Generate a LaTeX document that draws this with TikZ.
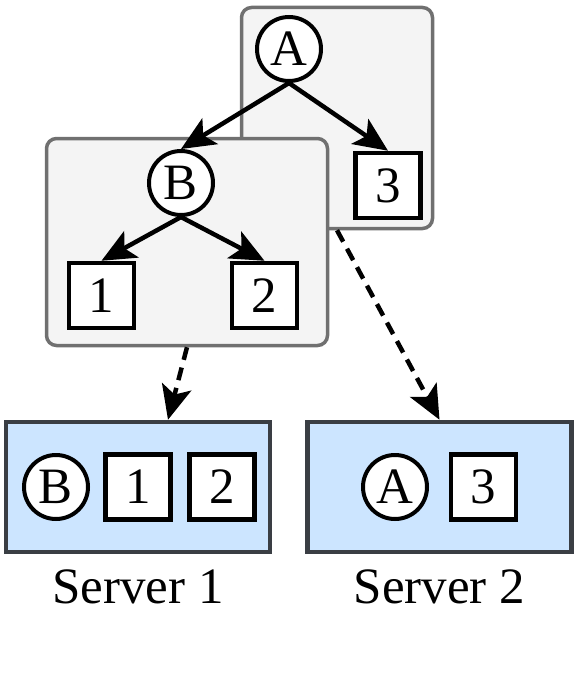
\documentclass[tikz,border=0pt]{standalone}
\usepackage{fontspec}
\setmainfont{Liberation Serif}
\usetikzlibrary{arrows.meta}

\definecolor{partfill}{HTML}{F4F4F4}
\definecolor{partline}{HTML}{707070}
\definecolor{serverfill}{HTML}{CCE5FF}
\definecolor{serverline}{HTML}{3A3E44}

\tikzset{
  vertex/.style={circle,draw,line width=4pt,fill=white,minimum size=64pt,inner sep=0pt},
  leaf/.style={rectangle,draw,line width=4.5pt,fill=white,minimum size=65pt,inner sep=0pt},
  part/.style={rectangle,rounded corners=10pt,draw=partline,fill=partfill,line width=3.5pt},
  server/.style={rectangle,draw=serverline,fill=serverfill,line width=4.5pt,
    minimum width=264pt,minimum height=130pt},
  tip/.style={-{Stealth[length=34pt,width=30pt,inset=8pt]}},
}

\begin{document}
\begin{tikzpicture}[x=1pt,y=-1pt,font=\fontsize{51}{60}\selectfont]

      \useasboundingbox (0,0) rectangle (582,674);

      % upper part of the tree
      \node[part,minimum width=191pt,minimum height=221pt] (PA) at (337,118) {};
      \node[vertex] (A) at (289,49)    {A};
      \node[leaf]   (3) at (388,185.5) {3};

      % lower part of the tree
      \node[part,minimum width=281pt,minimum height=207pt] (PB) at (187,242) {};
      \node[vertex] (B) at (181,183)   {B};
      \node[leaf]   (1) at (101.5,295.5) {1};
      \node[leaf]   (2) at (264.5,295.5) {2};

      \begin{scope}[line width=4.5pt]
        \draw[tip] (A.south) -- (B.north);
        \draw[tip] (A.south) -- (3.north);
        \draw[tip] (B.south) -- (1.north);
        \draw[tip] (B.south) -- (2.north);
      \end{scope}

      % servers
      \node[server] (S1) at (138,487) {};
      \node[server] (S2) at (439.5,487) {};

      \node[vertex] (SB) at (56,487)  {B};
      \node[leaf]   (S1a) at (138,487) {1};
      \node[leaf]   (S1b) at (222,487) {2};

      \node[vertex] (SA) at (395,487)   {A};
      \node[leaf]   (S2a) at (483.5,487) {3};

      \node[anchor=base] (L1) at (138,603)   {Server 1};
      \node[anchor=base] (L2) at (439.5,603) {Server 2};

      % placement
      \begin{scope}[line width=4.5pt,dash pattern=on 13pt off 8pt]
        \draw[tip] (PB.south) -- ([xshift=30pt]S1.north);
        \draw[tip] (PA.south) -- (S2.north);
      \end{scope}

    \end{tikzpicture}
\end{document}
